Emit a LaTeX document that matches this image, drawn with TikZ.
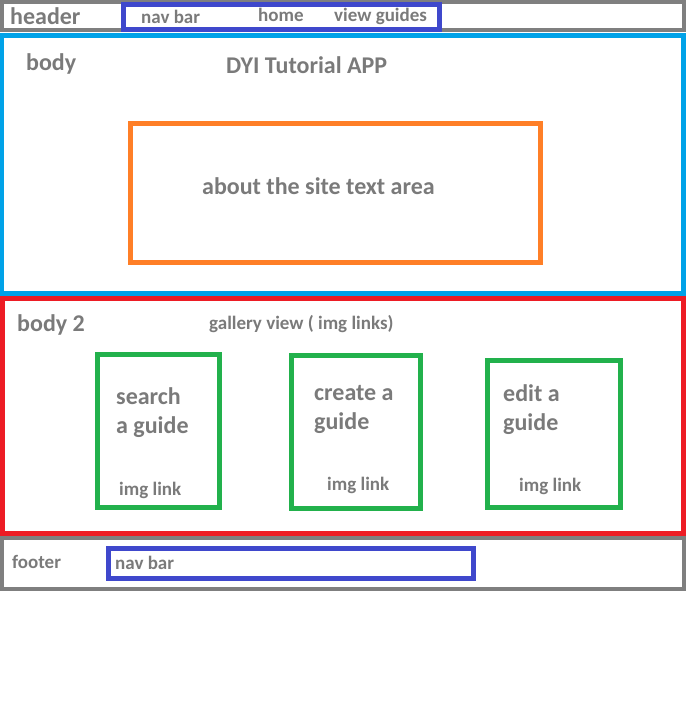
\documentclass[tikz,border=0pt]{standalone}
\usepackage{fontspec}
\setmainfont{Carlito}
\definecolor{framegray}{HTML}{7F7F7F}
\definecolor{navblue}{HTML}{3F48CC}
\definecolor{bodycyan}{HTML}{00A2E8}
\definecolor{aboutorange}{HTML}{FF7F27}
\definecolor{bodyred}{HTML}{ED1C24}
\definecolor{cardgreen}{HTML}{22B14C}
\definecolor{txtgray}{HTML}{7A7A7A}
\begin{document}
\begin{tikzpicture}[x=1pt, y=-1pt,
    panel/.style={rectangle, draw, line width=5pt, inner sep=0pt},
    bigtext/.style={anchor=base west, inner sep=0pt, text=txtgray, align=left,
        font=\bfseries\fontsize{24}{29}\selectfont},
    smalltext/.style={bigtext, font=\bfseries\fontsize{19}{23}\selectfont}]
    \useasboundingbox (0, 0) rectangle (686, 726);

    \node[panel, draw=framegray, line width=4pt, minimum width=682, minimum height=28] (header) at (343, 16) {};
    \node[panel, draw=navblue, minimum width=316, minimum height=25]       (headnav) at (281.5, 17) {};
    \node[panel, draw=bodycyan, minimum width=682, minimum height=258]     (body)    at (342, 164) {};
    \node[panel, draw=aboutorange, minimum width=409.5, minimum height=139] (about)  at (335.25, 192.5) {};
    \node[panel, draw=bodyred, minimum width=681.5, minimum height=235]    (body2)   at (342.75, 415.5) {};
    \node[panel, draw=cardgreen, minimum width=122, minimum height=153]    (search)  at (158, 430.5) {};
    \node[panel, draw=cardgreen, minimum width=128.5, minimum height=153]  (create)  at (355.75, 431.5) {};
    \node[panel, draw=cardgreen, minimum width=132.5, minimum height=147]  (edit)    at (553.75, 433.5) {};
    \node[panel, draw=framegray, line width=4pt, minimum width=682, minimum height=51] (footer) at (343, 563) {};
    \node[panel, draw=navblue, minimum width=365, minimum height=30]       (footnav) at (291, 563.5) {};

    \node[bigtext]   (headerlbl) at (10, 24)  {header};
    \node[smalltext] (navlbl)    at (141, 23) {nav bar};
    \node[smalltext] (homelbl)   at (258, 21) {home};
    \node[smalltext] (guideslbl) at (334, 21) {view guides};

    \node[bigtext] (bodylbl)  at (26, 70)   {body};
    \node[bigtext] (titlelbl) at (226, 73)  {DYI Tutorial APP};
    \node[bigtext] (aboutlbl) at (202, 194) {about the site text area};

    \node[bigtext]   (body2lbl)   at (17, 331)  {body 2};
    \node[smalltext] (gallerylbl) at (209, 329) {gallery view ( img links)};
    \node[bigtext]   (searchlbl)  at (116, 433) {search\\a guide};
    \node[smalltext] (searchimg)  at (119, 495) {img link};
    \node[bigtext]   (createlbl)  at (314, 429) {create a\\guide};
    \node[smalltext] (createimg)  at (327, 490) {img link};
    \node[bigtext]   (editlbl)    at (503, 430) {edit a\\guide};
    \node[smalltext] (editimg)    at (519, 491) {img link};

    \node[smalltext] (footerlbl)  at (12, 568)  {footer};
    \node[smalltext] (footnavlbl) at (115, 569) {nav bar};
\end{tikzpicture}
\end{document}
